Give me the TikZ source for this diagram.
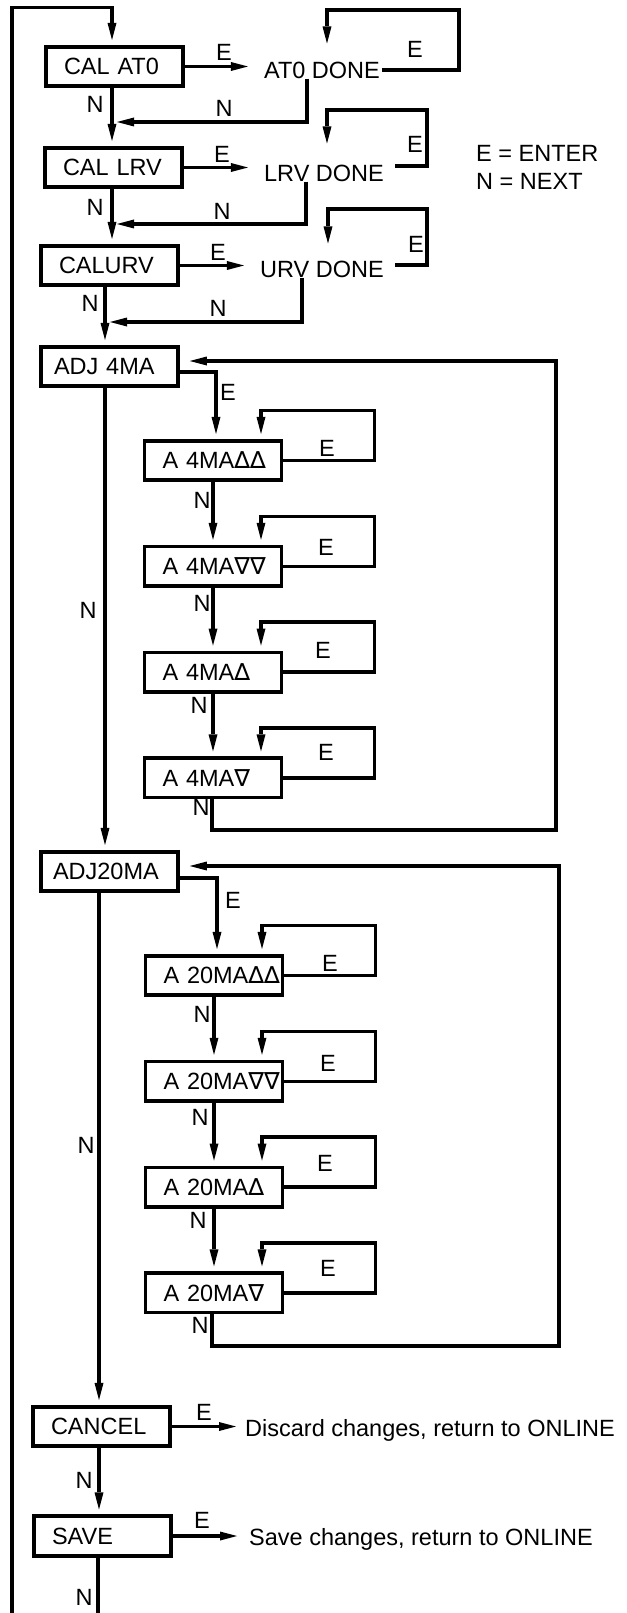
\documentclass[tikz,border=0pt]{standalone}
\usepackage{fontspec}
\setmainfont{Liberation Sans}
\newfontfamily\symfont{DejaVu Sans}
\usepackage{tikz}
\usetikzlibrary{positioning, arrows.meta}

\newcommand{\upmark}{{\symfont ∆}}
\newcommand{\dnmark}{{\symfont ∇}}

\begin{document}
\begin{tikzpicture}[x=1pt, y=-1pt,
    every node/.style={font=\fontsize{23.5pt}{26pt}\selectfont},
    menubox/.style={draw, line width=3.6pt, minimum height=39.5pt,
      text width=101pt, inner xsep=18pt, inner ysep=0pt, align=left},
    msg/.style={inner xsep=11pt, inner ysep=0pt},
    key/.style={inner sep=0pt},
    wire/.style={line width=3.6pt},
    flow/.style={wire, shorten >=5pt, -{Triangle[length=17pt, width=9pt, line width=0pt]}}]
  \useasboundingbox (0,0) rectangle (626,1613);

  % main menu column
  \node[menubox] (calat0) at (114.5,66.5) {CAL~AT0};
  \node[menubox] (callrv) at (113.5,167.5) {CAL~LRV};
  \node[menubox] (calurv) at (109.5,265.5) {CALURV};
  \node[menubox, text width=111pt, inner xsep=13pt] (adj4) at (109.5,366.5) {ADJ~4MA};
  \node[menubox, text width=113pt, inner xsep=12pt] (adj20) at (109.5,871.5) {ADJ20MA};
  \node[menubox] (cancel) at (101.5,1426.5) {CANCEL};
  \node[menubox] (save) at (102.5,1536) {SAVE};

  % 4 mA trim
  \node[menubox] (a4uu) at (213,460.5) {A~4MA\upmark\upmark};
  \node[menubox, below=62.7pt of a4uu] (a4dd) {A~4MA\dnmark\dnmark};
  \node[menubox, below=62.7pt of a4dd] (a4u) {A~4MA\upmark};
  \node[menubox, below=62.7pt of a4u] (a4d) {A~4MA\dnmark};

  % 20 mA trim
  \node[menubox] (a20uu) at (214,975.5) {A~20MA\upmark\upmark};
  \node[menubox, below=62.7pt of a20uu] (a20dd) {A~20MA\dnmark\dnmark};
  \node[menubox, below=62.7pt of a20dd] (a20u) {A~20MA\upmark};
  \node[menubox, below=62.7pt of a20u] (a20d) {A~20MA\dnmark};

  % messages and key
  \node[msg] (at0done) at (322,70) {AT0 DONE};
  \node[msg] (lrvdone) at (324,173) {LRV DONE};
  \node[msg] (urvdone) at (322,269) {URV DONE};
  \node[msg, anchor=base west, inner xsep=4pt] (discard) at (241,1436) {Discard changes, return to ONLINE};
  \node[msg, anchor=base west, inner xsep=7pt] (keep) at (242,1545.5) {Save changes, return to ONLINE};
  \node[key, anchor=west] (keyE) at (476,153) {E = ENTER};
  \node[key, anchor=west] (keyN) at (476,181) {N = NEXT};

  % trunk lines
  \coordinate (xa) at (112,0);
  \coordinate (xb) at (105,0);
  \coordinate (xc) at (99,0);
  \coordinate (back) at (12,1613);
  \coordinate (onward) at (98,1613);
  \coordinate (j1) at (112,122);
  \coordinate (j2) at (112,224);
  \coordinate (j3) at (105,322);

  \draw[flow] (back) |- (112,7.5) -- (calat0.north -| xa);
  \draw[flow] (calat0.south -| xa) -- (callrv.north -| xa);
  \draw[flow] (callrv.south -| xa) -- (calurv.north -| xa);
  \draw[flow] (calurv.south -| xb) -- (adj4.north -| xb);
  \draw[flow] (adj4.south -| xb) -- (adj20.north -| xb);
  \draw[flow] (adj20.south -| xc) -- (cancel.north -| xc);
  \draw[flow] (cancel.south -| xc) -- (save.north -| xc);
  \draw[wire] (save.south -| onward) -- (onward);

  % calibrations
  \draw[flow] (calat0.east) -- (calat0.east -| at0done.west);
  \draw[flow] (callrv.east) -- (callrv.east -| lrvdone.west);
  \draw[flow] (calurv.east) -- (calurv.east -| urvdone.west);
  \draw[flow, shorten >=18pt] ([xshift=-9pt]at0done.east) -| (459,10) -| ([xshift=5pt]at0done.north);
  \draw[flow, shorten >=21pt] ([yshift=7pt]lrvdone.east) -| (427,110) -| ([xshift=3pt]lrvdone.north);
  \draw[flow, shorten >=17pt] ([yshift=4pt]urvdone.east) -| (427,209) -| ([xshift=6pt]urvdone.north);
  \draw[flow] ([xshift=-15pt]at0done.south) |- (j1);
  \draw[flow] ([xshift=-18pt]lrvdone.south) |- (j2);
  \draw[flow] ([xshift=-20pt]urvdone.south) |- (j3);

  % 4 mA
  \draw[flow] ([yshift=-5.5pt]adj4.east) -| ([xshift=3pt]a4uu.north);
  \draw[flow] (a4uu.south) -- (a4dd.north);
  \draw[flow] (a4dd.south) -- (a4u.north);
  \draw[flow] (a4u.south) -- (a4d.north);
  \draw[flow] (a4uu.east) -| ++(91,-50) -| ([xshift=48pt]a4uu.north);
  \draw[flow] (a4dd.east) -| ++(91,-50) -| ([xshift=48pt]a4dd.north);
  \draw[flow] (a4u.east) -| ++(91,-50) -| ([xshift=48pt]a4u.north);
  \draw[flow] (a4d.east) -| ++(91,-50) -| ([xshift=48pt]a4d.north);
  \draw[flow] ([xshift=-1pt]a4d.south) |- (556,830) |- ([xshift=5pt, yshift=5.5pt]adj4.east);

  % 20 mA
  \draw[flow] ([yshift=-6.5pt]adj20.east) -| ([xshift=3pt]a20uu.north);
  \draw[flow] (a20uu.south) -- (a20dd.north);
  \draw[flow] (a20dd.south) -- (a20u.north);
  \draw[flow] (a20u.south) -- (a20d.north);
  \draw[flow] (a20uu.east) -| ++(91,-50) -| ([xshift=48pt]a20uu.north);
  \draw[flow] (a20dd.east) -| ++(91,-50) -| ([xshift=48pt]a20dd.north);
  \draw[flow] (a20u.east) -| ++(91,-50) -| ([xshift=48pt]a20u.north);
  \draw[flow] (a20d.east) -| ++(91,-50) -| ([xshift=48pt]a20d.north);
  \draw[flow] ([xshift=-2pt]a20d.south) |- (559,1346) |- ([xshift=5pt, yshift=5.5pt]adj20.east);

  % cancel / save
  \draw[flow] (cancel.east) -- (cancel.east -| discard.west);
  \draw[flow] (save.east) -- (save.east -| keep.west);

  % E labels
  \node[key] (eAt0) at (224,52) {E};
  \node[key] (eLrv) at (222,154) {E};
  \node[key] (eUrv) at (218,252) {E};
  \node[key] (eAt0b) at (415,49) {E};
  \node[key] (eLrvb) at (415,144) {E};
  \node[key] (eUrvb) at (416,244) {E};
  \node[key] (eAdj4) at (228,392) {E};
  \node[key] (eA4uu) at (327,448) {E};
  \node[key] (eA4dd) at (326,547) {E};
  \node[key] (eA4u) at (323,650) {E};
  \node[key] (eA4d) at (326,752) {E};
  \node[key] (eAdj20) at (233,900) {E};
  \node[key] (eA20uu) at (330,963) {E};
  \node[key] (eA20dd) at (328,1063) {E};
  \node[key] (eA20u) at (325,1163) {E};
  \node[key] (eA20d) at (328,1268) {E};
  \node[key] (eCancel) at (204,1412) {E};
  \node[key] (eSave) at (202,1520) {E};

  % N labels
  \node[key] (nAt0) at (95,104) {N};
  \node[key] (nLrv) at (95,207) {N};
  \node[key] (nUrv) at (90,303) {N};
  \node[key] (nAt0b) at (224,108) {N};
  \node[key] (nLrvb) at (222,211) {N};
  \node[key] (nUrvb) at (218,308) {N};
  \node[key] (nAdj4) at (88,610) {N};
  \node[key] (nA4uu) at (202,500) {N};
  \node[key] (nA4dd) at (202,603) {N};
  \node[key] (nA4u) at (199,705) {N};
  \node[key] (nA4d) at (201,807) {N};
  \node[key] (nAdj20) at (86,1145) {N};
  \node[key] (nA20uu) at (202,1014) {N};
  \node[key] (nA20dd) at (200,1117) {N};
  \node[key] (nA20u) at (198,1220) {N};
  \node[key] (nA20d) at (200,1325) {N};
  \node[key] (nCancel) at (84,1480) {N};
  \node[key] (nSave) at (84,1597) {N};
\end{tikzpicture}
\end{document}
